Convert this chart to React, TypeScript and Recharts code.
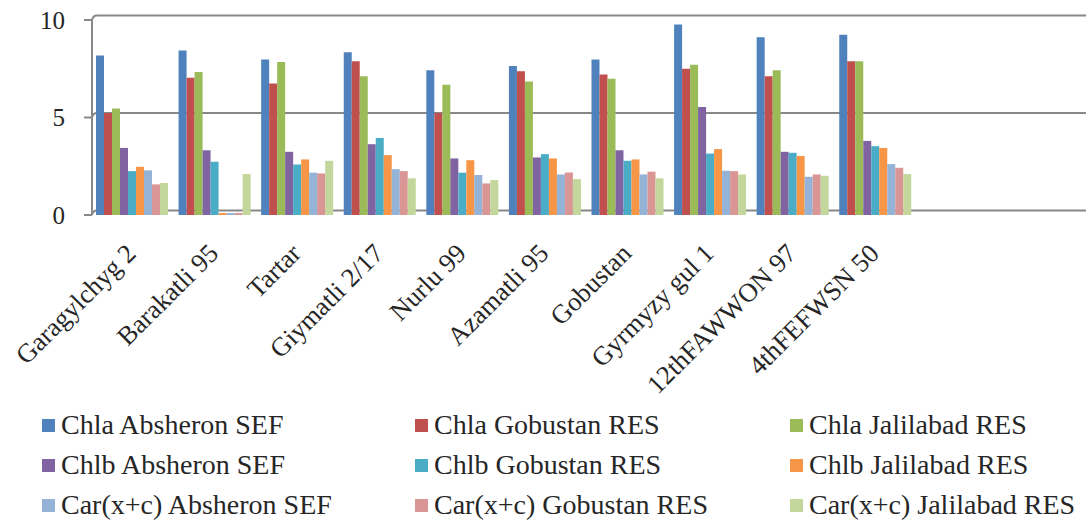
import React from 'react';
import { BarChart, Bar, XAxis, YAxis, CartesianGrid, Legend } from 'recharts';

// Wheat varieties on the category axis; the last two slots are left empty.
const categories = [
  'Garagylchyg 2',
  'Barakatli 95',
  'Tartar',
  'Giymatli 2/17',
  'Nurlu 99',
  'Azamatli 95',
  'Gobustan',
  'Gyrmyzy gul 1',
  '12thFAWWON 97',
  '4thFEFWSN 50',
  '',
  '',
];

// Pigment content by station (one value per variety)
const chlaAbsheron = [8.18, 8.44, 7.98, 8.35, 7.42, 7.64, 7.98, 9.77, 9.12, 9.24];
const chlaGobustan = [5.23, 7.04, 6.74, 7.89, 5.23, 7.37, 7.2, 7.5, 7.11, 7.89];
const chlaJalilabad = [5.46, 7.33, 7.84, 7.11, 6.68, 6.85, 6.99, 7.71, 7.42, 7.88];
const chlbAbsheron = [3.44, 3.32, 3.24, 3.63, 2.9, 2.95, 3.32, 5.54, 3.24, 3.8];
const chlbGobustan = [2.25, 2.73, 2.59, 3.95, 2.17, 3.12, 2.78, 3.15, 3.19, 3.53];
const chlbJalilabad = [2.47, 0.1, 2.85, 3.07, 2.81, 2.9, 2.85, 3.38, 3.03, 3.44];
const carAbsheron = [2.29, 0.1, 2.17, 2.35, 2.05, 2.08, 2.08, 2.27, 1.96, 2.61];
const carGobustan = [1.57, 0.1, 2.13, 2.25, 1.62, 2.18, 2.22, 2.25, 2.08, 2.42];
const carJalilabad = [1.64, 2.1, 2.78, 1.88, 1.79, 1.84, 1.88, 2.08, 2.01, 2.1];

const yTicks = [0, 5, 10];
const edgeTicks = [0, 1, 2, 3, 4, 5, 6, 7, 8, 9, 10, 11, 12];

const series = [
  { key: 'chlaAbsheron', name: 'Chla Absheron SEF', color: '#4F81BD', values: chlaAbsheron },
  { key: 'chlaGobustan', name: 'Chla Gobustan RES', color: '#C0504D', values: chlaGobustan },
  { key: 'chlaJalilabad', name: 'Chla Jalilabad RES', color: '#9BBB59', values: chlaJalilabad },
  { key: 'chlbAbsheron', name: 'Chlb Absheron SEF', color: '#8064A2', values: chlbAbsheron },
  { key: 'chlbGobustan', name: 'Chlb Gobustan RES', color: '#4BACC6', values: chlbGobustan },
  { key: 'chlbJalilabad', name: 'Chlb Jalilabad RES', color: '#F79646', values: chlbJalilabad },
  { key: 'carAbsheron', name: 'Car(x+c) Absheron SEF', color: '#95B3D7', values: carAbsheron },
  { key: 'carGobustan', name: 'Car(x+c) Gobustan RES', color: '#D99694', values: carGobustan },
  { key: 'carJalilabad', name: 'Car(x+c) Jalilabad RES', color: '#C3D69B', values: carJalilabad },
];

const rows = categories.map((name, i) => {
  const row: Record<string, string | number | null> = { name };
  series.forEach((s) => {
    row[s.key] = i < s.values.length ? s.values[i] : null;
  });
  return row;
});

const FONT = "'Liberation Serif', 'Times New Roman', serif";
const TEXT = '#262626';
const LINE = '#888888';

// Back-wall gridline, drawn a few pixels up and to the right of the front axis
const WallLine = (p: any) => (
  <path
    d={`M${p.x1},${p.y1} Q${p.x1 + 1},${p.y1 - 4.5} ${p.x1 + 5},${p.y1 - 4.5} L${p.x2 + 3},${p.y1 - 4.5}`}
    stroke={LINE}
    strokeWidth={2}
    fill="none"
  />
);

const CategoryTick = (props: any) => {
  const { x, y, payload } = props;
  return (
    <g transform={`translate(${x + 4},${y + 40})`}>
      <text
        x={0}
        y={0}
        textAnchor="end"
        transform="rotate(-45)"
        fontFamily={FONT}
        fontSize={26.5}
        fill={TEXT}
      >
        {payload.value}
      </text>
    </g>
  );
};

const legendCols = [42, 415, 790];
const legendRows = [20, 60, 100];

// Three-column legend in series order
const LegendGrid = () => (
  <div style={{ position: 'relative', width: 1083, height: 118 }}>
    {series.map((s, i) => (
      <div
        key={s.key}
        style={{
          position: 'absolute',
          left: legendCols[i % 3],
          top: legendRows[Math.floor(i / 3)] - 16,
          height: 32,
          display: 'flex',
          alignItems: 'center',
          whiteSpace: 'nowrap',
        }}
      >
        <span style={{ display: 'inline-block', width: 13, height: 13, background: s.color, marginRight: 6 }} />
        <span style={{ fontFamily: FONT, fontSize: 28, color: TEXT, lineHeight: '32px' }}>{s.name}</span>
      </div>
    ))}
  </div>
);

export default function App() {
  return (
    <div style={{ position: 'absolute', left: 0, top: 0, background: '#fff' }}>
      <BarChart
        width={1086}
        height={523}
        data={rows}
        margin={{ top: 20, right: 3, bottom: 0, left: 0 }}
        barCategoryGap={4}
        barGap={0}
      >
        <CartesianGrid vertical={false} horizontal={WallLine} />
        <XAxis
          xAxisId="edges"
          type="number"
          domain={[0, 12]}
          ticks={edgeTicks}
          tick={false}
          height={0}
          tickSize={7}
          axisLine={{ stroke: LINE, strokeWidth: 2 }}
          tickLine={{ stroke: LINE, strokeWidth: 2 }}
        />
        <XAxis
          xAxisId="cat"
          dataKey="name"
          interval={0}
          height={190}
          tickSize={0}
          tickMargin={0}
          axisLine={false}
          tickLine={false}
          tick={CategoryTick}
        />
        <YAxis
          width={92}
          domain={[0, 10]}
          ticks={yTicks}
          tickSize={8}
          tickMargin={19}
          axisLine={{ stroke: LINE, strokeWidth: 2 }}
          tickLine={{ stroke: LINE, strokeWidth: 2 }}
          tick={{ fontFamily: FONT, fontSize: 25, fill: TEXT }}
        />
        <Legend verticalAlign="bottom" content={LegendGrid} />
        {series.map((s) => (
          <Bar
            key={s.key}
            xAxisId="cat"
            dataKey={s.key}
            name={s.name}
            fill={s.color}
            isAnimationActive={false}
          />
        ))}
      </BarChart>
    </div>
  );
}
